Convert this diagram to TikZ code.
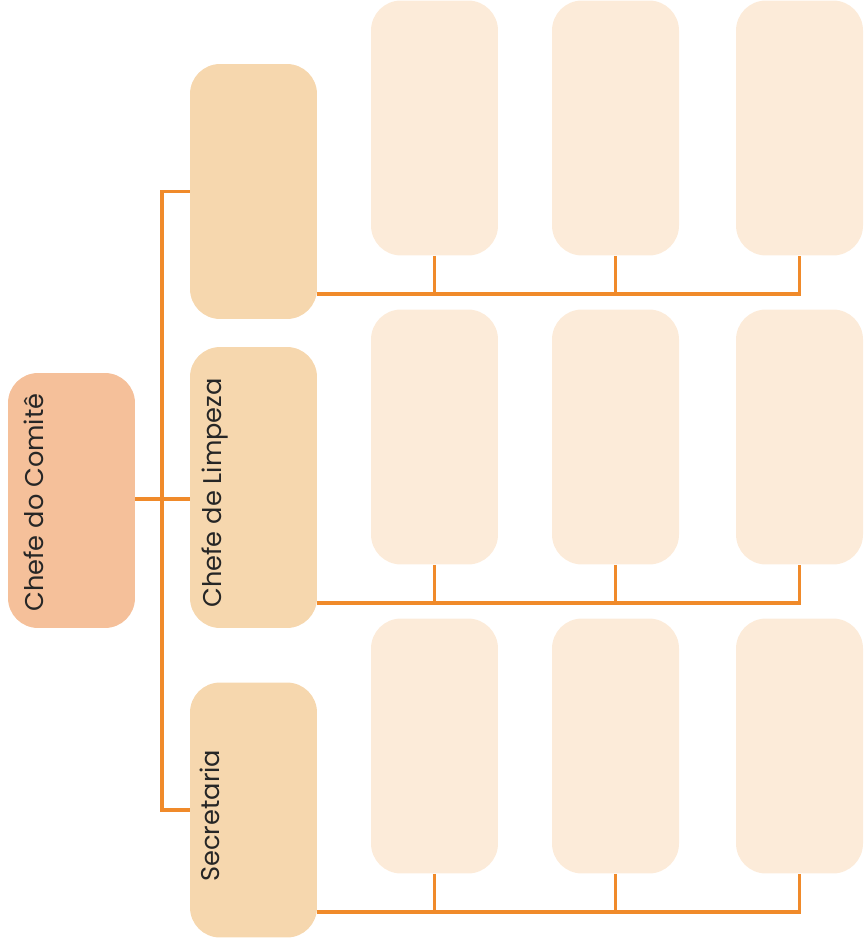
\documentclass[tikz,border=0pt]{standalone}
\usepackage{fontspec}
\setmainfont{Poppins}
\usepackage{xcolor}
\usetikzlibrary{positioning}

\definecolor{comiteFill}{HTML}{F5C09A}
\definecolor{chefeFill}{HTML}{F6D7AE}
\definecolor{cellFill}{HTML}{FCEBD9}
\definecolor{lineOrange}{HTML}{F08A2A}

\begin{document}
\begin{tikzpicture}[x=0.02cm, y=-0.02cm,
    box/.style={rounded corners=0.6cm, minimum width=2.54cm, minimum height=5.1cm, inner sep=0pt},
    conn/.style={draw=lineOrange, line width=2.2pt},
    lbl/.style={rotate=90, anchor=base west, inner sep=0pt, text=black!85, font=\fontsize{14.6}{18}\selectfont}]
  \useasboundingbox (0,0) rectangle (864,945);

  % Chief and his three deputies
  \node[box, fill=comiteFill] (comite) at (71.5,500.5) {};
  \node[box, fill=chefeFill] (chefeA) at (253.5,191.5) {};
  \node[box, fill=chefeFill, minimum height=5.62cm] (limpeza) at (253.5,487.5) {};
  \node[box, fill=chefeFill] (secretaria) at (253.5,810) {};

  % Labels
  \node[lbl] at (43,612) {Chefe do Comitê};
  \node[lbl] at (221,608) {Chefe de Limpeza};
  \node[lbl] at (219,882) {Secretaria};

  % Links to the chief
  \coordinate (spine) at (162,499);
  \draw[conn] (comite.east |- spine) -- (limpeza.west |- spine);
  \draw[conn] (chefeA.west) -| (spine) |- (secretaria.west);

  % Empty cells, three per row
  \foreach \r/\y in {1/128, 2/437, 3/746} {
    \foreach \c/\x in {1/434.5, 2/615.5, 3/799.5}
      \node[box, fill=cellFill] (r\r-\c) at (\x,\y) {};
    \coordinate (base\r) at (317,\y+166);
    \draw[conn] (base\r) -| (r\r-3.south);
    \foreach \c in {1,2}
      \draw[conn] (r\r-\c.south) -- (r\r-\c.south |- base\r);
  }
\end{tikzpicture}
\end{document}
